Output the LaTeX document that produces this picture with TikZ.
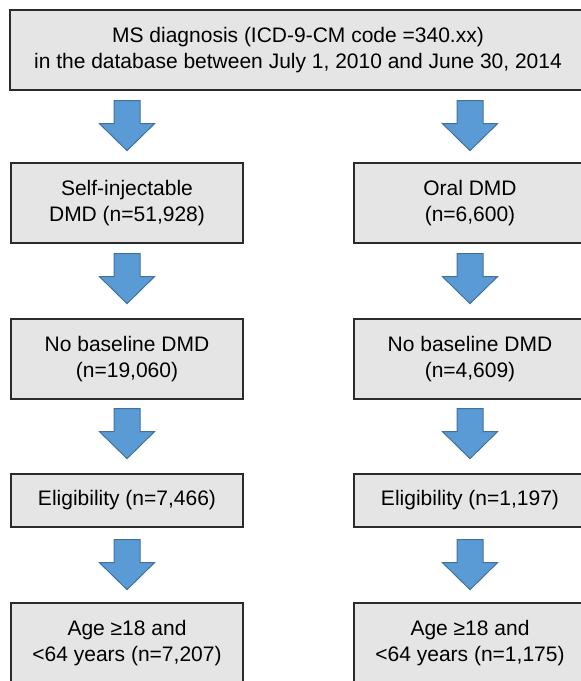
\documentclass[tikz,border=0pt]{standalone}
\usepackage{fontspec}
\setmainfont{Liberation Sans}
\usetikzlibrary{calc}
\definecolor{boxfill}{HTML}{E5E5E5}
\definecolor{boxline}{HTML}{2B2B2B}
\definecolor{arrfill}{HTML}{5B9BD5}
\definecolor{arrline}{HTML}{41719C}
\tikzset{
  flowbox/.style={draw=boxline, fill=boxfill, line width=1.3pt, align=center,
    inner sep=0pt, font=\fontsize{21}{26.5}\selectfont},
  blockarrow/.style={fill=arrfill, draw=arrline, line width=1pt, line join=miter}
}
\newcommand\blockarr[1]{%
  \path[blockarrow] #1 ++(-13,0) -- ++(26,0) -- ++(0,23) -- ++(14.5,0)
    -- ++(-27.5,27) -- ++(-27.5,-27) -- ++(14.5,0) -- cycle;}
\begin{document}
\begin{tikzpicture}[x=1pt,y=-1pt]
\useasboundingbox (0,0) rectangle (581,681);
\clip (0,0) rectangle (581,681);
\node[flowbox, minimum width=576, minimum height=80] (top) at (298,50)
  {MS diagnosis (ICD-9-CM code =340.xx)\\in the database between July 1, 2010 and June 30, 2014};
\node[flowbox, minimum width=232, minimum height=80] (l2) at (127,203) {Self-injectable\\DMD (n=51,928)};
\node[flowbox, minimum width=232, minimum height=80] (r2) at (470,203) {Oral DMD\\(n=6,600)};
\node[flowbox, minimum width=232, minimum height=80] (l3) at (127,359) {No baseline DMD\\(n=19,060)};
\node[flowbox, minimum width=232, minimum height=80] (r3) at (470,359) {No baseline DMD\\(n=4,609)};
\node[flowbox, minimum width=232, minimum height=53] (l4) at (127,500.5) {Eligibility (n=7,466)};
\node[flowbox, minimum width=232, minimum height=53] (r4) at (470,500.5) {Eligibility (n=1,197)};
\node[flowbox, minimum width=232, minimum height=80] (l5) at (127,643) {Age ≥18 and\\<64 years (n=7,207)};
\node[flowbox, minimum width=232, minimum height=80] (r5) at (470,643) {Age ≥18 and\\<64 years (n=1,175)};
\blockarr{($(top.south -| l2.north)+(0,10)$)}
\blockarr{($(top.south -| r2.north)+(0,10)$)}
\blockarr{($(l2.south)+(0,10)$)}
\blockarr{($(r2.south)+(0,10)$)}
\blockarr{($(l3.south)+(0,9)$)}
\blockarr{($(r3.south)+(0,9)$)}
\blockarr{($(l4.south)+(0,12)$)}
\blockarr{($(r4.south)+(0,12)$)}
\end{tikzpicture}
\end{document}
